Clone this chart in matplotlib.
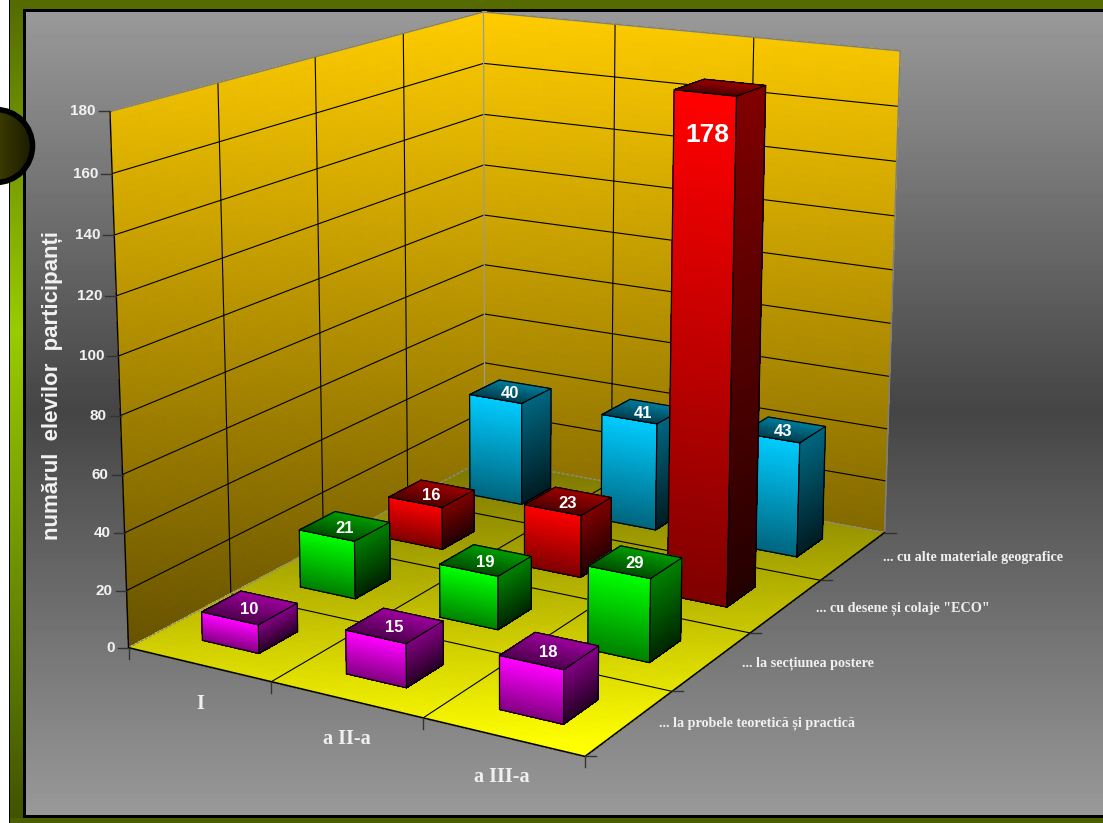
import numpy as np
import matplotlib
matplotlib.use("Agg")
import matplotlib.pyplot as plt
from matplotlib.patches import Circle, Rectangle
from mpl_toolkits.mplot3d.art3d import Poly3DCollection

W, H = 1103, 823

classes = ["I", "a II-a", "a III-a"]
series = ["... la probele teoretică și practică", "... la secțiunea postere",
          '... cu desene și colaje "ECO"', "... cu alte materiale geografice"]
values = [[10, 15, 18],
          [21, 19, 29],
          [16, 23, 178],
          [40, 41, 43]]
series_colors = [(1, 0, 1), (0, 1, 0), (1, 0, 0), (0, 0.8, 1)]
z_ticks = list(range(0, 181, 20))
y_title = "numărul  elevilor  participanți"

# where the box corners and some ticks sit in the picture, used to fit the camera
cal_world = [(0, 0, 0), (3, 0, 0), (3, 4, 0), (0, 4, 0), (0, 0, 180), (0, 4, 180), (3, 4, 180),
             (1, 0, 0), (2, 0, 0), (3, 1, 0), (3, 2, 0), (3, 3, 0), (0, 0, 160), (0, 0, 20)]
cal_px = [(129, 648), (585, 757), (885, 533), (484, 459), (110, 111), (484, 12), (900, 51),
          (271, 682), (423, 717), (672, 691), (750, 633), (821, 580), (111.7, 173.7), (127, 591)]

rows, rhs = [], []
for (x, y, z), (u, v) in zip(cal_world, cal_px):
    v = H - v
    z = z / 50.
    rows.append([x, y, z, 1, 0, 0, 0, 0, -u*x, -u*y, -u*z])
    rows.append([0, 0, 0, 0, x, y, z, 1, -v*x, -v*y, -v*z])
    rhs += [u, v]
p = np.linalg.lstsq(np.array(rows, float), np.array(rhs, float), rcond=None)[0]
P = np.array([p[:4], p[4:8], [p[8], p[9], p[10], 1.]])
P[:, 2] /= 50.


def to_px(x, y, z):
    q = P @ np.array([x, y, z, 1.])
    return q[0]/q[2], H - q[1]/q[2]


fig = plt.figure(figsize=(W/100, H/100), dpi=100, facecolor="white")

# frame and grey panel
bg = fig.add_axes([0, 0, 1, 1], zorder=0)
bg.axis("off")
bg.add_patch(Rectangle((9, 0), W, H, fc="black", lw=0))
olive = np.array([[0.33, 0.42, 0], [0.60, 0.80, 0], [0.25, 0.32, 0]])
band = np.array([np.interp(np.arange(H), [0, 330, H], olive[:, c]) for c in range(3)]).T[:, None, :]
bg.imshow(band, extent=[10, 23, H, 0], aspect="auto", zorder=1)
bg.add_patch(Rectangle((10, 0), W, 9, fc="#556b00", lw=0, zorder=1))
bg.add_patch(Rectangle((10, 818), W, 5, fc="#4c5f00", lw=0, zorder=1))
bg.add_patch(Rectangle((23, 9), W, 809, fc="black", lw=0, zorder=2))
bg.imshow(np.interp(np.arange(12, 815), [12, 410, 815], [0.60, 0.27, 0.60])[:, None],
          extent=[26, W, 815, 12], cmap="gray", vmin=0, vmax=1, aspect="auto", zorder=3)
bg.add_patch(Circle((-4, 146), 36.5, fc="none", ec="black", lw=4, zorder=5))
disc = bg.imshow(np.linspace(0.22, 0.1, 40)[None, :, None] * np.array([1, 1, 0])[None, None, :],
                 extent=[0, 34, 184, 107], aspect="auto", zorder=4)
disc.set_clip_path(Circle((-4, 146), 36.5, transform=bg.transData))
bg.set_xlim(0, W)
bg.set_ylim(H, 0)

ax = fig.add_axes([0, 0, 1, 1], projection="3d", zorder=1, computed_zorder=False)
ax.set_axis_off()
ax.patch.set_alpha(0)
ax.set_proj_type("ortho")  # only so that lines are not clipped, get_proj is replaced below


def fitted_proj():
    T = ax.transData.inverted().get_affine().get_matrix()
    M = np.zeros((4, 4))
    M[0] = T[0, 0]*P[0] + T[0, 1]*P[1] + T[0, 2]*P[2]
    M[1] = T[1, 0]*P[0] + T[1, 1]*P[1] + T[1, 2]*P[2]
    M[2] = [-1, 1, 0, 0]
    M[3] = P[2]
    return M


ax.get_proj = fitted_proj

order = [0]


def next_z():
    order[0] += 1
    return order[0]


def add_polys(polys, colors):
    coll = Poly3DCollection(polys, facecolors=colors, edgecolors=colors, linewidths=0.3,
                            antialiaseds=False, zorder=next_z(), clip_on=False)
    ax.add_collection3d(coll, autolim=False)


def add_line(xs, ys, zs, color="black", lw=0.8, ls="-"):
    ax.plot(xs, ys, zs, color=color, lw=lw, ls=ls, zorder=next_z(), clip_on=False,
            solid_capstyle="round")


def mesh(fn, n=60):
    """polygons of one wall, coloured by their height in the picture"""
    polys = []
    for a0, a1 in zip(np.linspace(0, 1, n)[:-1], np.linspace(0, 1, n)[1:]):
        for b0, b1 in zip(np.linspace(0, 1, n)[:-1], np.linspace(0, 1, n)[1:]):
            polys.append([fn(a0, b0), fn(a1, b0), fn(a1, b1), fn(a0, b1)])
    return polys


def wall_color(v):
    t = np.clip((v - 12) / (650 - 12.), 0, 1)
    return (1 - 0.6*t, 0.8 - 0.48*t, 0)


def floor_color(v):
    t = np.clip((745 - v) / (745 - 459.), 0, 1)
    return (1 - 0.53*t, 1 - 0.55*t, 0)


walls = [lambda a, b: (0, 4*a, 180*b), lambda a, b: (3*a, 4, 180*b)]
for wall in walls:
    polys = mesh(wall)
    add_polys(polys, [wall_color(to_px(*np.mean(q, axis=0))[1]) for q in polys])
floor = lambda a, b: (3*a, 4*b, 0)
polys = mesh(floor)
add_polys(polys, [floor_color(to_px(*np.mean(q, axis=0))[1]) for q in polys])

# grid
for z in z_ticks[1:-1]:
    add_line([0, 0, 3], [0, 4, 4], [z, z, z])
for y in range(1, 4):
    add_line([0, 0], [y, y], [0, 180])
    add_line([0, 3], [y, y], [0, 0])
for x in range(1, 3):
    add_line([x, x], [4, 4], [0, 180])
    add_line([x, x], [0, 4], [0, 0])

# box edges
add_line([0, 0, 3, 3], [0, 4, 4, 4], [180, 180, 180, 0], color="#808080", lw=1.1)
add_line([0, 0], [4, 4], [0, 180], color="#9a9a9a", lw=0.9)
add_line([0, 0, 3], [0, 4, 4], [0, 0, 0], color="#8a8a8a", lw=1.1, ls=(0, (2, 1)))
add_line([0, 0], [0, 0], [0, 180], lw=1.0)
add_line([0, 3, 3], [0, 0, 4], [0, 0, 0], lw=1.2)

# bars, from the back row to the front one
gap_x, gap_y = 0.30, 0.305
label_pos = []
for j in range(3, -1, -1):
    base = np.array(series_colors[j])
    for i in range(3):
        val = values[j][i]
        x0, x1 = i + gap_x, i + 1 - gap_x
        y0, y1 = j + gap_y, j + 1 - gap_y
        lev = np.linspace(val, 0, 61)
        fr = np.linspace(0, 1, 60)
        front = [[(x0, y0, a), (x1, y0, a), (x1, y0, b), (x0, y0, b)] for a, b in zip(lev[:-1], lev[1:])]
        side = [[(x1, y0, a), (x1, y1, a), (x1, y1, b), (x1, y0, b)] for a, b in zip(lev[:-1], lev[1:])]
        ys = np.linspace(y1, y0, 21)
        top = [[(x0, a, val), (x1, a, val), (x1, b, val), (x0, b, val)] for a, b in zip(ys[:-1], ys[1:])]
        add_polys(front, [tuple(base*(1 - 0.5*t)) for t in fr])
        add_polys(side, [tuple(base*(0.5 - 0.36*t)) for t in fr])
        add_polys(top, [tuple(base*(0.62 - 0.3*t)) for t in np.linspace(0, 1, 20)])
        add_line([x0, x1, x1, x0, x0], [y0, y0, y0, y0, y0], [0, 0, val, val, 0], lw=0.9)
        add_line([x1, x1, x1], [y0, y1, y1], [0, 0, val], lw=0.9)
        add_line([x0, x0, x1, x1], [y0, y1, y1, y0], [val, val, val, val], lw=0.9)
        if val > 100:
            px, py = to_px((x0 + x1)/2, y0, val - 14)
            label_pos.append(((px + 3, py), val, 19))
        else:
            px, py = to_px((x0 + x1)/2, (y0 + y1)/2, val)
            label_pos.append(((px - 0.5, py + 2), val, 12))

# everything in picture coordinates on top: ticks and texts
top_ax = fig.add_axes([0, 0, 1, 1], zorder=2)
top_ax.axis("off")
top_ax.patch.set_alpha(0)

for (px, py), val, size in label_pos:
    top_ax.text(px, py, str(val), color="white", fontsize=size, fontweight="bold",
                family="Liberation Sans", ha="center", va="center")

for z in z_ticks:
    px, py = to_px(0, 0, z)
    top_ax.plot([px - 11, px], [py, py], color="#333333", lw=1)
    top_ax.text(px - 14, py, str(z), color="#f2f2f2", fontsize=11, fontweight="bold",
                family="Liberation Sans", ha="right", va="center")
for x in range(0, 4):
    px, py = to_px(x, 0, 0)
    top_ax.plot([px, px], [py, py + 11], color="#333333", lw=1)
for y in range(0, 5):
    px, py = to_px(3, y, 0)
    top_ax.plot([px, px + 11], [py, py], color="#333333", lw=1)

class_px = [(200, 704), (347, 739), (502, 777)]
for name, (px, py) in zip(classes, class_px):
    top_ax.text(px, py, name, color="#f0f0f0", fontsize=14.5, fontweight="bold",
                family="Liberation Serif", ha="center", va="center")

series_px = [(659, 723), (742, 663), (816, 608), (883, 558)]
for name, (px, py) in zip(series, series_px):
    top_ax.text(px, py, name, color="#f0f0f0", fontsize=10.2, fontweight="bold",
                family="Liberation Serif", ha="left", va="center")

top_ax.text(53, 385, y_title, color="#f2f2f2", fontsize=16, fontweight="bold",
            family="Liberation Sans", rotation=90, ha="center", va="center")

top_ax.set_xlim(0, W)
top_ax.set_ylim(H, 0)

fig.savefig("out.png", dpi=100)
